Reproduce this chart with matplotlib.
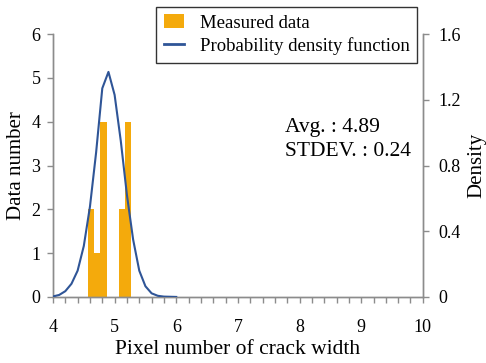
import matplotlib
matplotlib.use("Agg")
import matplotlib.pyplot as plt
from matplotlib.ticker import MultipleLocator
from matplotlib.patches import Patch
from matplotlib.lines import Line2D

# Data
bar_x = [4.62, 4.72, 4.82, 5.12, 5.22]
bar_counts = [2, 1, 4, 2, 4]
bar_width = 0.105

pdf_x = [4.0, 4.1, 4.2, 4.3, 4.4, 4.5, 4.6, 4.7, 4.8, 4.9, 5.0,
         5.1, 5.2, 5.3, 5.4, 5.5, 5.6, 5.7, 5.8, 5.9, 6.0]
pdf_y = [0.003, 0.012, 0.035, 0.08, 0.16, 0.31, 0.55, 0.88, 1.27, 1.37, 1.23,
         0.95, 0.62, 0.35, 0.16, 0.065, 0.022, 0.007, 0.002, 0.001, 0.0]

avg_text = "Avg. : 4.89"
std_text = "STDEV. : 0.24"

bar_color = "#F4AA0C"
line_color = "#2F5597"
spine_color = "#8C8C8C"

plt.rcParams['font.family'] = ['Liberation Serif', 'DejaVu Serif']

fig = plt.figure(figsize=(4.86, 3.63), dpi=100)
ax = fig.add_axes([0.109, 0.182, 0.761, 0.724])
ax2 = ax.twinx()

ax.bar(bar_x, bar_counts, width=bar_width, color=bar_color, align='center', zorder=2)
ax2.plot(pdf_x, pdf_y, color=line_color, lw=1.5, zorder=3)

ax.set_xlim(4, 10)
ax.set_ylim(0, 6)
ax2.set_ylim(0, 1.6)

ax.xaxis.set_major_locator(MultipleLocator(1))
ax.xaxis.set_minor_locator(MultipleLocator(0.2))
ax.yaxis.set_major_locator(MultipleLocator(1))

for a in (ax, ax2):
    a.spines['top'].set_visible(False)
    for s in a.spines.values():
        s.set_color(spine_color)
        s.set_linewidth(1.0)
    a.tick_params(which='both', color=spine_color, labelsize=13, length=4, width=1.0, direction='out')
ax.tick_params(axis='x', which='both', pad=12)
ax.tick_params(axis='y', pad=5)
ax2.tick_params(axis='y', pad=7)
ax2.set_yticks([0, 0.4, 0.8, 1.2, 1.6])
ax2.set_yticklabels(['0', '0.4', '0.8', '1.2', '1.6'])

ax.set_xlabel("Pixel number of crack width", fontsize=15.5, labelpad=3)
ax.set_ylabel("Data number", fontsize=15, labelpad=4)
ax2.set_ylabel("Density", fontsize=15, labelpad=5)

ax.text(0.627, 0.646, avg_text, transform=ax.transAxes, fontsize=15.5, va='center', ha='left')
ax.text(0.627, 0.555, std_text, transform=ax.transAxes, fontsize=15.5, va='center', ha='left')

handles = [Patch(facecolor=bar_color, edgecolor='none'),
           Line2D([0], [0], color=line_color, lw=2)]
labels = ["Measured data", "Probability density function"]
leg = fig.legend(handles, labels, loc='upper left', bbox_to_anchor=(0.321, 0.981),
                 frameon=True, fancybox=False, fontsize=13.5, borderpad=0.4,
                 handlelength=1.1, labelspacing=0.3, handletextpad=0.85, borderaxespad=0)
leg.get_frame().set_edgecolor('black')
leg.get_frame().set_linewidth(1.0)

fig.savefig("out.png", dpi=100)
